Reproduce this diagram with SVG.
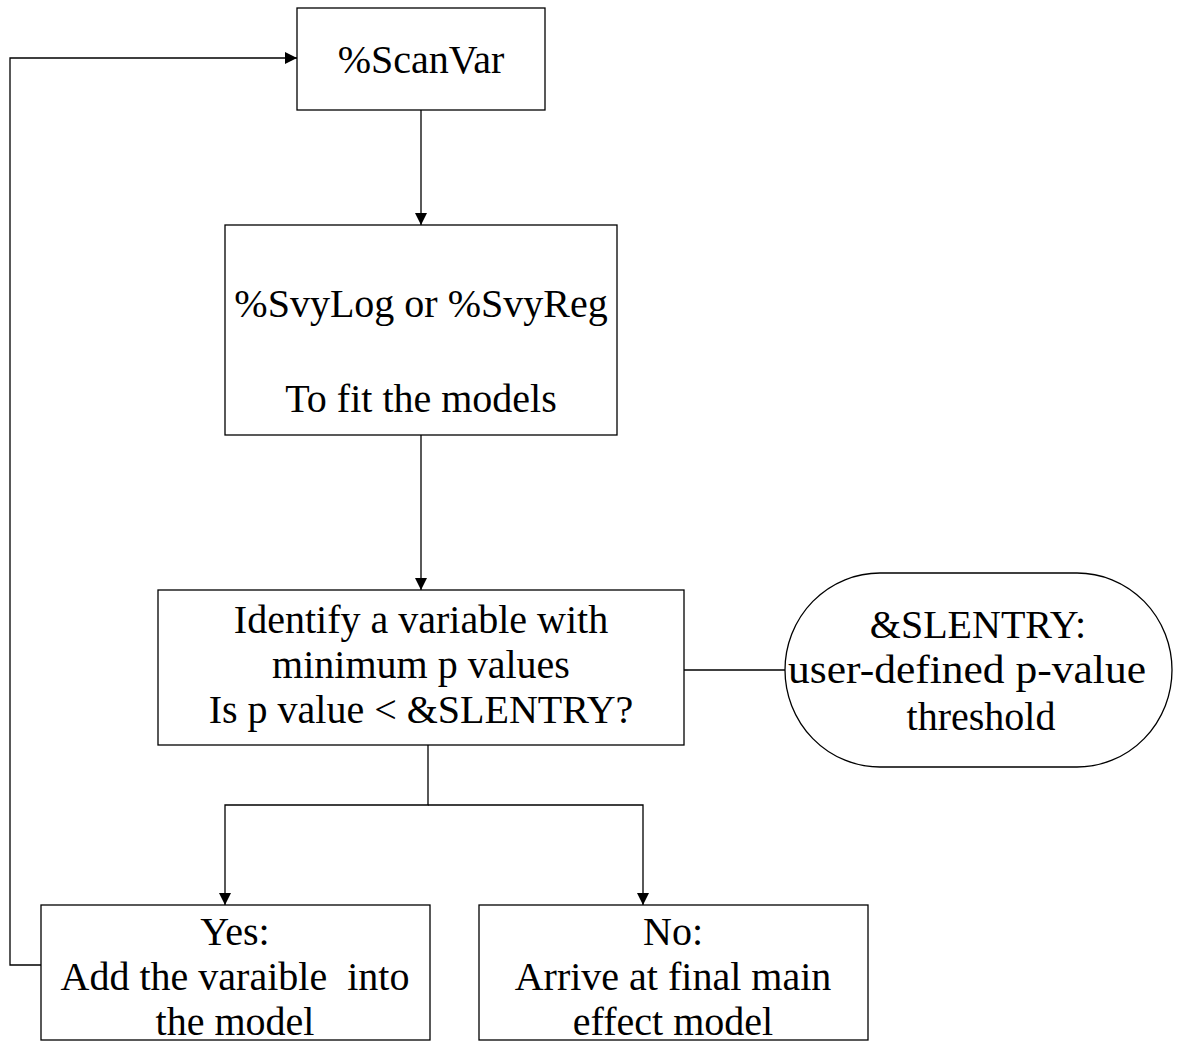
<svg xmlns="http://www.w3.org/2000/svg" width="1177" height="1047" viewBox="0 0 1177 1047">
<style>
.box{fill:#fff;stroke:#000;stroke-width:1.3}
.t{font-family:"Liberation Serif","Times New Roman",serif;font-size:40px;fill:#000;text-anchor:middle}
.c{fill:none;stroke:#000;stroke-width:1.3}
</style>
<defs>
<marker id="ah" viewBox="0 0 10 10" refX="10" refY="5" markerWidth="12" markerHeight="12" markerUnits="userSpaceOnUse" orient="auto">
<path d="M0,0 L10,5 L0,10 z" fill="#000"/>
</marker>
</defs>
<rect width="1177" height="1047" fill="#fff"/>
<g id="connectors">
<path class="c" d="M421,110 V225" marker-end="url(#ah)"/>
<path class="c" d="M421,435 V590" marker-end="url(#ah)"/>
<path class="c" d="M684,670 H785"/>
<path class="c" d="M428,745 V805 H225 V905" marker-end="url(#ah)"/>
<path class="c" d="M428,805 H643 V905" marker-end="url(#ah)"/>
<path class="c" d="M41,965 H10 V58 H297" marker-end="url(#ah)"/>
</g>
<g id="scanvar">
<rect class="box" x="297" y="8" width="248" height="102"/>
<text class="t" x="421" y="73">%ScanVar</text>
</g>
<g id="svylog">
<rect class="box" x="225" y="225" width="392" height="210"/>
<text class="t" x="421" y="317">%SvyLog or %SvyReg</text>
<text class="t" x="421" y="412">To fit the models</text>
</g>
<g id="identify">
<rect class="box" x="158" y="590" width="526" height="155"/>
<text class="t" x="421" y="633">Identify a variable with</text>
<text class="t" x="421" y="678">minimum p values</text>
<text class="t" x="421" y="723">Is p value &lt; &amp;SLENTRY?</text>
</g>
<g id="slentry">
<rect class="box" x="785" y="573" width="387" height="194" rx="95" ry="97"/>
<text class="t" x="978" y="638">&amp;SLENTRY:</text>
<text class="t" x="967" y="683" textLength="358" lengthAdjust="spacingAndGlyphs">user-defined p-value</text>
<text class="t" x="981" y="730">threshold</text>
</g>
<g id="yes">
<rect class="box" x="41" y="905" width="389" height="135"/>
<text class="t" x="235" y="945">Yes:</text>
<text class="t" x="235" y="990" xml:space="preserve">Add the varaible  into</text>
<text class="t" x="235" y="1035">the model</text>
</g>
<g id="no">
<rect class="box" x="479" y="905" width="389" height="135"/>
<text class="t" x="673" y="945">No:</text>
<text class="t" x="673" y="990">Arrive at final main</text>
<text class="t" x="673" y="1035">effect model</text>
</g>
</svg>
